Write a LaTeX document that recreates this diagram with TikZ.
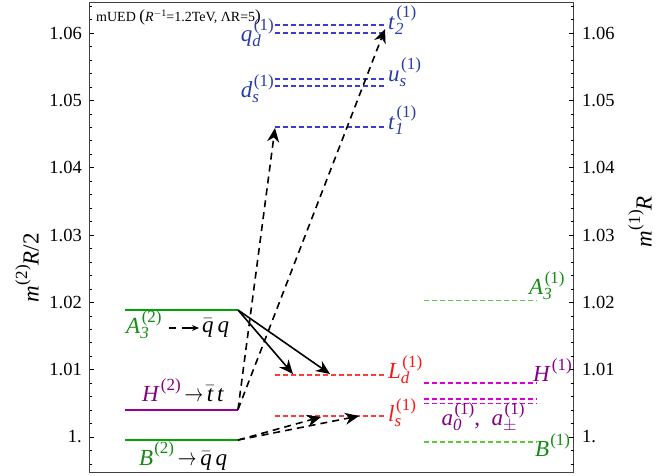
\documentclass[tikz,border=0pt]{standalone}
\usepackage{amsmath}
\usepackage{graphicx}
\usepackage{fontspec}
\setmainfont{Liberation Serif}
\usetikzlibrary{arrows.meta}
\definecolor{gsolid}{RGB}{0,165,0}
\definecolor{gdash}{RGB}{90,200,60}
\definecolor{glab}{RGB}{20,140,20}
\definecolor{psolid}{RGB}{150,0,150}
\definecolor{pdash}{RGB}{215,0,215}
\definecolor{plab}{RGB}{130,0,130}
\definecolor{bdash}{RGB}{60,60,210}
\definecolor{blab}{RGB}{40,60,170}
\definecolor{rdash}{RGB}{255,60,60}
\definecolor{rlab}{RGB}{255,20,20}
\newcommand\scr{\fontsize{17}{17}\selectfont}
\newcommand\supsub[2]{\ooalign{\raisebox{-5pt}{\scr\textit{#1}}\cr\kern1.5pt\raisebox{11.5pt}{\scr(#2)}\cr}}
\newcommand\lv[3]{\textit{#1}\supsub{#2}{#3}}
\newcommand\lvn[2]{\textit{#1}\kern1pt\raisebox{11.5pt}{\scr(#2)}}
\newcommand\shortarr{\,\scalebox{0.75}[1]{$\rightarrow$}\,}
\newcommand\qbar{$\bar{\textit{q}}$}
\newcommand\tbar{$\bar{\textit{t}}$}
\begin{document}
\begin{tikzpicture}[x=1pt,y=-1pt,
  lvl/.style={line width=2pt},
  dlvl/.style={line width=1.1pt, dash pattern=on 5pt off 3pt},
  arr/.style={line width=1.6pt,-{Stealth[length=14pt,width=12pt,inset=4.5pt]}},
  darr/.style={arr, dash pattern=on 7pt off 5pt},
  ticklab/.style={font=\fontsize{18.5}{20}\selectfont, inner sep=0pt},
  lab/.style={font=\fontsize{23}{25}\selectfont, inner sep=0pt}]
\useasboundingbox (0,0) rectangle (664,476);
% frame
\draw[line width=0.8pt, black!75] (89.5,2.7) rectangle (573.5,472.5);
% ticks
\foreach \i in {-2,...,32}{
  \pgfmathsetmacro\yy{437-13.466*\i}
  \pgfmathtruncatemacro\mj{mod(\i+100,5)==0 ? 1 : 0}
  \ifnum\mj=1
    \draw[line width=0.7pt] (89.5,\yy) -- ++(4.5,0);
    \draw[line width=0.7pt] (573.5,\yy) -- ++(-4.5,0);
  \else
    \draw[line width=0.6pt] (89.5,\yy) -- ++(2.7,0);
    \draw[line width=0.6pt] (573.5,\yy) -- ++(-2.7,0);
  \fi
}
\foreach \v/\t in {0/1.,1/1.01,2/1.02,3/1.03,4/1.04,5/1.05,6/1.06}{
  \node[ticklab, anchor=east] (tl\v) at (82,437-67.33*\v) {\t};
  \node[ticklab, anchor=west] (tr\v) at (582,437-67.33*\v) {\t};
}
% axis labels
\node[lab, rotate=90] (ylab) at (27,268) {\lvn{m}{2}\textit{R}/2};
\node[lab, rotate=90] (y2lab) at (640,222) {\lvn{m}{1}\textit{R}};
% title
\node[anchor=west, font=\fontsize{14}{16}\selectfont, inner sep=0pt] (title) at (96,17)
  {mUED {\fontsize{17}{17}\selectfont(}\textit{R}\raisebox{5pt}{\fontsize{10}{10}\selectfont$-$1}=1.2TeV, ΛR=5{\fontsize{17}{17}\selectfont)}};
% level-2 states
\coordinate (A2l) at (125,310); \coordinate (A2r) at (238,310);
\coordinate (H2l) at (125,409.5); \coordinate (H2r) at (238,409.5);
\coordinate (B2l) at (125,440); \coordinate (B2r) at (238,440);
\draw[lvl, gsolid] (A2l) -- (A2r);
\draw[lvl, psolid] (H2l) -- (H2r);
\draw[lvl, gsolid] (B2l) -- (B2r);
% level-1 quarks
\foreach \n/\y in {t2/25,qd/33,us/79,ds/86,t1/127}{
  \coordinate (\n l) at (275,\y); \coordinate (\n r) at (387,\y);
  \draw[dlvl, bdash] (\n l) -- (\n r);
}
\foreach \n/\y in {Ld/375,ls/416}{
  \coordinate (\n l) at (275,\y); \coordinate (\n r) at (387,\y);
  \draw[dlvl, rdash] (\n l) -- (\n r);
}
\coordinate (A1l) at (424,300.5); \coordinate (A1r) at (537,300.5);
\coordinate (H1l) at (424,383); \coordinate (H1r) at (537,383);
\coordinate (a1l) at (424,399); \coordinate (a1r) at (537,399);
\coordinate (a2l) at (424,403.5); \coordinate (a2r) at (537,403.5);
\coordinate (B1l) at (424,442); \coordinate (B1r) at (537,442);
\draw[dlvl, gdash] (A1l) -- (A1r);
\draw[dlvl, pdash] (H1l) -- (H1r);
\draw[dlvl, pdash] (a1l) -- (a1r);
\draw[dlvl, pdash] (a2l) -- (a2r);
\draw[dlvl, gdash] (B1l) -- (B1r);
% labels of level-1 states
\node[lab, blab, anchor=west] (t2lab) at (388,23) {\lv{t}{2}{1}};
\node[lab, blab, anchor=east] (qdlab) at (274,39) {\lv{q}{d}{1}};
\node[lab, blab, anchor=west] (uslab) at (388,76) {\lv{u}{s}{1}};
\node[lab, blab, anchor=east] (dslab) at (274,90) {\lv{d}{s}{1}};
\node[lab, blab, anchor=west] (t1lab) at (388,123) {\lv{t}{1}{1}};
\node[lab, rlab, anchor=west] (Ldlab) at (388,371) {\lv{L}{d}{1}};
\node[lab, rlab, anchor=west] (lslab) at (388,414) {\lv{l}{s}{1}};
\node[lab, glab, anchor=west] (A1lab) at (529,287) {\lv{A}{3}{1}};
\node[lab, plab, anchor=west] (H1lab) at (533,370) {\lvn{H}{1}};
\node[lab, plab] (alab) at (483,422) {\lv{a}{0}{1},\ \ \lv{a}{$\pm$}{1}};
\node[lab, glab, anchor=west] (B1lab) at (535,445) {\lvn{B}{1}};
% labels of level-2 states
\node[lab, glab, anchor=west] (A2lab) at (126,326) {\lv{A}{3}{2}};
\node[lab, anchor=west] (A2q) at (202,328) {\qbar\,\textit{q}};
\coordinate (A2as) at (169,328); \coordinate (A2ae) at (199,328);
\draw[line width=1.3pt, dash pattern=on 7pt off 6pt on 30pt off 1pt, -{Stealth[length=7pt,width=6pt]}] (A2as) -- (A2ae);
\node[lab, anchor=west] (H2lab) at (142,390) {\textcolor{plab}{\lvn{H}{2}}\shortarr\tbar\,\textit{t}};
\node[lab, anchor=west] (B2lab) at (139,456) {\textcolor{glab}{\lvn{B}{2}}\shortarr\qbar\,\textit{q}};
% decay arrows
\coordinate (tipA1) at (293,374); \coordinate (tipA2) at (330,374);
\coordinate (tipT1) at (275,128); \coordinate (tipT2) at (385,29);
\coordinate (tipB1) at (321,417); \coordinate (tipB2) at (359,416);
\draw[arr] (A2r) -- (tipA1);
\draw[arr] (A2r) -- (tipA2);
\draw[darr] (H2r) -- (tipT1);
\draw[darr] (H2r) -- (tipT2);
\draw[darr] (B2r) -- (tipB1);
\draw[darr] (B2r) -- (tipB2);
\end{tikzpicture}
\end{document}
